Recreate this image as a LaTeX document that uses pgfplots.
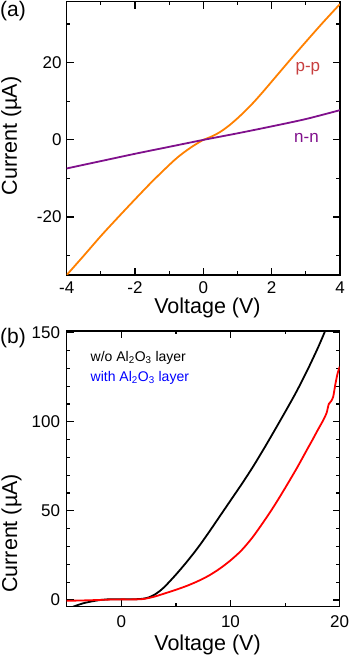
\documentclass[border=0pt]{standalone}
\usepackage{fontspec}
\setmainfont{Liberation Sans}
\usepackage{pgfplots}
\pgfplotsset{compat=1.18}
\definecolor{ppor}{RGB}{255,128,0}
\definecolor{nnpu}{RGB}{128,16,140}
\definecolor{pptext}{RGB}{200,64,64}
\pgfplotsset{
  common/.style={
    scale only axis,
    axis line style={line width=1.4pt},
    tick style={line width=1.2pt, black},
    tick align=inside,
    major tick length=7pt,
    minor tick length=3.5pt,
    /pgf/number format/assume math mode=true,
    ticklabel style={font=\fontsize{17}{20}\selectfont},
    label style={font=\fontsize{21.5}{25}\selectfont},
    yticklabel style={anchor=east, inner sep=0pt},
    xticklabel style={anchor=base, inner sep=0pt},
    clip=true,
  }
}
\begin{document}
\begin{tikzpicture}[x=1pt,y=1pt]
\useasboundingbox (0,0) rectangle (350,658);
% panel (a)
\begin{axis}[common,
  at={(66.7pt,383pt)}, anchor=south west,
  width=273.3pt, height=273.3pt,
  xmin=-4, xmax=4, ymin=-35, ymax=35.8,
  xtick={-4,-2,0,2,4}, minor x tick num=1,
  ytick={-20,0,20}, minor ytick={-30,-10,10,30},
  xticklabel style={yshift=-19pt},
  yticklabel style={xshift=-5pt},
  xlabel={Voltage (V)}, ylabel={Current (µA)},
  xlabel style={at={(axis description cs:0.515,-0.14)}, anchor=base},
  ylabel style={at={(axis description cs:-0.182,0.509)}, anchor=base, rotate=0},
]
\addplot[color=ppor, line width=1.8pt, smooth] coordinates {
(-4,-35.0) (-3.5,-30.0) (-3,-24.9) (-2.5,-20.1) (-2,-15.4) (-1.5,-10.8)
(-1,-6.5) (-0.75,-4.5) (-0.5,-2.8) (-0.25,-1.3) (0,0) (0.25,0.9) (0.5,2.1)
(0.75,3.7) (1,5.6) (1.25,7.7) (1.5,10.0) (1.75,12.5) (2,15.1) (2.5,20.3)
(3,25.4) (3.5,30.4) (4,35.2)
};
\addplot[color=nnpu, line width=1.8pt, smooth] coordinates {
(-4,-7.4) (-3,-5.5) (-2,-3.6) (-1,-1.8) (0,0) (1,1.7) (2,3.5) (3,5.4) (4,7.7)
};
\node[anchor=base, text=pptext, font=\fontsize{17}{20}\selectfont, inner sep=0pt] at (axis cs:3.06,17.7) {p-p};
\node[anchor=base, text=nnpu, font=\fontsize{17}{20}\selectfont, inner sep=0pt] at (axis cs:3.02,-0.7) {n-n};
\end{axis}
\node[anchor=north west, inner sep=0pt, font=\fontsize{21}{24}\selectfont] at (0,656.5) {(a)};
% panel (b)
\begin{axis}[common,
  at={(66.7pt,51.3pt)}, anchor=south west,
  width=273pt, height=275.7pt,
  xmin=-5, xmax=20, ymin=-3.8, ymax=151,
  xtick={0,10,20}, minor xtick={-5,5,15},
  ytick={0,50,100,150}, minor y tick num=4,
  xticklabel style={yshift=-21pt},
  yticklabel style={xshift=-6.5pt},
  xlabel={Voltage (V)}, ylabel={Current (µA)},
  xlabel style={at={(axis description cs:0.516,-0.158)}, anchor=base},
  ylabel style={at={(axis description cs:-0.182,0.266)}, anchor=base, rotate=0},
]
\addplot[color=black, line width=1.8pt, smooth] coordinates {
(-5,-6.5) (-4.4,-3.8) (-4,-2.9) (-3.5,-1.9) (-3,-1.2) (-2.5,-0.6) (-2,-0.1)
(-1.5,0.2) (-1,0.4) (0,0.4) (1,0.4) (1.5,0.45) (2,0.7) (2.5,1.4) (3,2.8)
(3.5,4.9) (4,7.6) (5,14.2) (6,21.4) (7,29.2) (8,37.8) (9,46.8) (10,55.8)
(11,64.8) (12,74.2) (13,84.3) (14,94.8) (15,105.5) (16,116.5) (17,128.5)
(18,141.5) (18.7,151.5)
};
\addplot[color=red, line width=1.8pt, smooth] coordinates {
(-5,-0.5) (-3,-0.2) (-1,0.2) (0,0.3) (1,0.3) (2,0.5) (3,1.8) (4,3.7)
(5,5.7) (6,7.9) (7,10.5) (8,13.6) (9,17.5) (10,22.2) (11,27.8) (12,35.0)
(13,43.6) (14,52.8) (15,62.8) (16,73.2) (16.5,78.7) (17,84.3) (17.5,89.8)
(18,95.5) (18.5,101) (18.8,105) (19,110) (19.2,111.5) (19.4,114)
(19.6,121) (19.8,127) (20,131)
};
\node[anchor=base west, inner sep=0pt, font=\fontsize{14}{16}\selectfont] at (axis cs:-2.82,133.9) {w/o Al\textsubscript{2}O\textsubscript{3} layer};
\node[anchor=base west, inner sep=0pt, text=blue, font=\fontsize{14}{16}\selectfont] at (axis cs:-2.82,122.6) {with Al\textsubscript{2}O\textsubscript{3} layer};
\end{axis}
\node[anchor=west, inner sep=0pt, font=\fontsize{21}{24}\selectfont] at (0,320) {(b)};
\end{tikzpicture}
\end{document}
